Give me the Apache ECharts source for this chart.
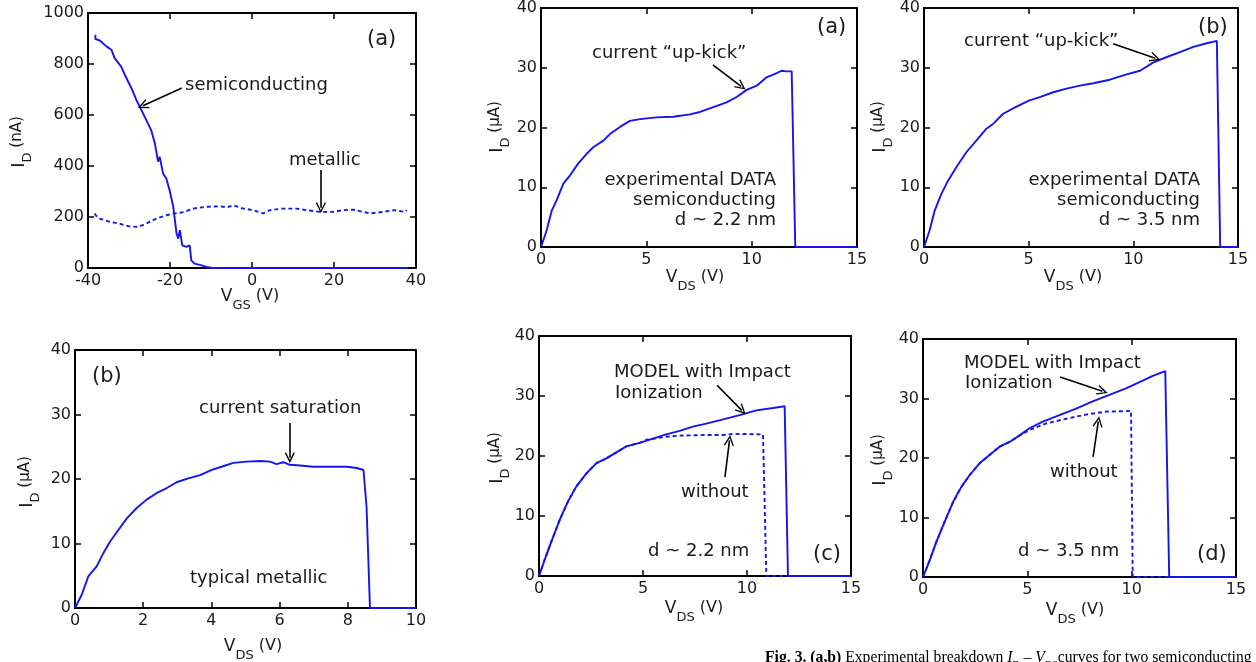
<!DOCTYPE html>
<html>
<head>
<meta charset="utf-8">
<script src="https://cdn.jsdelivr.net/npm/echarts@6/dist/echarts.min.js"></script>
<style>
html,body{margin:0;padding:0;background:#fff;}
#main{width:1256px;height:662px;}
</style>
</head>
<body>
<div id="main"></div>
<script>
// ---------- DATA ----------
// Panel 1 (left top): I_D (nA) vs V_GS (V)
const p1SemiVgs = [-38.2,-38.2,-37.2,-35.5,-34.3,-33.5,-31.9,-31.0,-29.4,-28.2,-27.0,-25.8,-24.6,-23.7,-22.9,-22.5,-21.7,-20.9,-20.1,-19.2,-18.4,-18.0,-17.6,-17.0,-16.0,-15.2,-14.8,-14.0,-12.3,-11.1,-9.5,0,10,20,30,38];
const p1SemiId  = [915,898,893,869,856,823,790,757,705,659,620,581,541,489,417,436,371,351,305,240,135,115,148,89,83,89,30,17,10,4,0,0,0,0,0,0];
const p1MetVgs = [-38.4,-38.0,-37.2,-34.7,-32.3,-30.2,-27.8,-25.8,-23.3,-20.9,-18.8,-16.4,-14.4,-11.1,-7.8,-6.0,-4.6,-2.1,0.3,2.7,4.4,7.6,10.9,13.3,16.6,19.8,22.3,24.7,27.1,28.8,32.0,34.5,37.3,37.7];
const p1MetId  = [214,205,194,181,174,164,161,174,194,207,214,220,233,240,242,238,246,233,227,214,227,233,233,227,220,220,227,229,220,214,220,227,220,227];

// Panel 2 (left bottom): typical metallic, I_D (uA) vs V_DS (V)
const p2Vds = [0,0.2,0.39,0.64,0.83,1.03,1.27,1.52,1.81,2.1,2.39,2.69,2.98,3.32,3.67,4.01,4.3,4.64,5.03,5.43,5.72,5.91,6.11,6.3,6.6,6.99,7.38,7.97,8.26,8.46,8.55,8.65,10];
const p2Id  = [0,2.1,4.9,6.5,8.5,10.3,12.1,13.9,15.5,16.8,17.8,18.6,19.5,20.1,20.6,21.4,21.9,22.5,22.7,22.8,22.7,22.3,22.6,22.2,22.1,21.9,21.9,21.9,21.7,21.4,15.7,0,0];

// Panel (a): experimental, d ~ 2.2 nm
const paVds = [0,0.27,0.51,0.74,1.06,1.38,1.77,2.17,2.48,2.96,3.27,3.75,4.22,4.7,5.49,6.28,7.07,7.55,8.18,8.81,9.29,9.76,10.24,10.71,11.19,11.42,11.66,11.9,12.07,15];
const paId  = [0,2.8,6.1,7.8,10.6,12.0,14.0,15.6,16.7,17.8,18.9,20.1,21.1,21.4,21.7,21.8,22.2,22.6,23.4,24.2,25.1,26.3,27.0,28.4,29.1,29.5,29.4,29.4,0,0];

// Panel (b): experimental, d ~ 3.5 nm
const pbVds = [0,0.27,0.51,0.83,1.15,1.55,2.03,2.5,2.98,3.3,3.78,4.42,5.01,5.53,6.17,6.81,7.45,8.09,8.88,9.68,10.32,10.96,11.6,12.23,12.87,13.51,13.99,14.07,14.15,15];
const pbId  = [0,2.8,6.1,8.9,11.1,13.4,15.9,17.8,19.8,20.6,22.3,23.5,24.5,25.1,25.9,26.5,27.0,27.4,28.0,28.9,29.5,30.9,31.8,32.6,33.5,34.1,34.5,34.7,0,0];

// Panel (c): model, d ~ 2.2 nm
const pcVds = [0,0.27,0.59,0.99,1.39,1.79,2.28,2.76,3.24,3.72,4.2,4.84,5.48,6.12,6.76,7.4,8.04,8.85,9.65,10.45,11.25,11.81,11.97,15];
const pcId  = [0,2.7,5.7,9.3,12.4,14.9,17.1,18.8,19.6,20.6,21.6,22.2,22.9,23.6,24.2,24.9,25.4,26.1,26.8,27.6,28.0,28.3,0,0];
const pcNoVds = [0,0.27,0.59,0.99,1.39,1.79,2.28,2.76,3.24,3.72,4.2,4.84,5.16,6.12,6.76,8.04,8.85,9.33,10.77,10.93,15];
const pcNoId  = [0,2.7,5.7,9.3,12.4,14.9,17.1,18.8,19.6,20.6,21.6,22.2,22.7,23.2,23.4,23.5,23.5,23.7,23.6,0,0];

// Panel (d): model, d ~ 3.5 nm
const pdVds = [0,0.32,0.64,1.04,1.44,1.83,2.23,2.71,3.19,3.67,4.15,4.63,5.1,5.74,6.54,7.34,8.13,8.93,9.73,10.53,11.01,11.61,11.8,15];
const pdId  = [0,2.8,5.9,9.3,12.6,15.1,17.1,19.1,20.5,21.9,22.7,23.8,25.0,26.1,27.2,28.3,29.5,30.6,31.7,33.0,33.8,34.6,0,0];
const pdNoVds = [0,0.32,0.64,1.04,1.44,1.83,2.23,2.71,3.19,3.67,4.15,4.63,5.1,5.9,6.86,7.81,8.77,9.97,10.05,15];
const pdNoId  = [0,2.8,5.9,9.3,12.6,15.1,17.1,19.1,20.5,21.9,22.7,23.8,24.7,25.8,26.6,27.3,27.8,27.9,0,0];

// axis ranges [min, max, interval]
const xRanges = [[-40,40,20],[0,10,2],[0,15,5],[0,15,5],[0,15,5],[0,15,5]];
const yRanges = [[0,1000,200],[0,40,10],[0,40,10],[0,40,10],[0,40,10],[0,40,10]];

// annotation arrows in data coordinates [x1,y1,x2,y2] (tail -> head)
const arrows = [
  [[-17.1,706,-26.6,636],[16.8,384,16.8,236]],
  [[6.3,28.7,6.3,23.3]],
  [[8.16,30.5,9.5,26.9]],
  [[9.03,34.0,11.05,31.6]],
  [[8.56,31.8,9.75,27.6],[8.94,16.5,9.16,22.6]],
  [[6.57,33.6,8.6,31.2],[8.15,20.2,8.4,26.1]]
];

// ---------- LAYOUT ----------
const FONT = 'DejaVu Sans';
const BLUE = '#1414f0';
const grids = [
  {left:88, top:13, width:328, height:255},
  {left:75, top:350, width:341, height:258},
  {left:541, top:7, width:316, height:240},
  {left:924, top:7, width:314, height:240},
  {left:539, top:336, width:312, height:240},
  {left:923, top:339, width:313, height:238}
];

function zip(a,b){ return a.map((v,i)=>[v,b[i]]); }

const xAxes = [], yAxes = [];
grids.forEach((g,i)=>{
  const base = {
    type:'value', gridIndex:i, splitLine:{show:false},
    axisLine:{show:true, onZero:false, lineStyle:{color:'#000', width:2}},
    axisTick:{show:true, inside:true, length:6, lineStyle:{color:'#000', width:1.5}}
  };
  const xr = xRanges[i], yr = yRanges[i];
  const lbl = {show:true, color:'#1a1a1a', fontSize:16, fontFamily:FONT, showMinLabel:true, showMaxLabel:true,
               formatter:(v)=>String(v)};
  xAxes.push(Object.assign({}, base, {position:'bottom', min:xr[0], max:xr[1], interval:xr[2],
    axisLabel:Object.assign({margin:5}, lbl)}));
  xAxes.push(Object.assign({}, base, {position:'top', min:xr[0], max:xr[1], interval:xr[2], axisLabel:{show:false}}));
  yAxes.push(Object.assign({}, base, {position:'left', min:yr[0], max:yr[1], interval:yr[2],
    axisLabel:Object.assign({margin:4}, lbl)}));
  yAxes.push(Object.assign({}, base, {position:'right', min:yr[0], max:yr[1], interval:yr[2], axisLabel:{show:false}}));
});

const ARROW = 'path://M0,0 L6,12 L4.6,12.8 L0,3.6 L-4.6,12.8 L-6,12 Z';
function mkArrows(i){
  return {
    silent:true, animation:false,
    symbol:['none', ARROW], symbolSize:[10,11],
    lineStyle:{color:'#000', width:1.6, type:'solid'},
    label:{show:false},
    data: arrows[i].map(a=>[{coord:[a[0],a[1]]},{coord:[a[2],a[3]]}])
  };
}
function line(i, data, dashed, withArrows){
  const s = {
    type:'line', xAxisIndex:2*i, yAxisIndex:2*i, data:data,
    showSymbol:false, symbol:'none', animation:false, z: dashed?2:3,
    lineStyle:{color:BLUE, width:1.9, type: dashed ? [4,3] : 'solid'}
  };
  if (withArrows) s.markLine = mkArrows(i);
  return s;
}

const series = [
  line(0, zip(p1MetVgs,p1MetId), true, false),
  line(0, zip(p1SemiVgs,p1SemiId), false, true),
  line(1, zip(p2Vds,p2Id), false, true),
  line(2, zip(paVds,paId), false, true),
  line(3, zip(pbVds,pbId), false, true),
  line(4, zip(pcNoVds,pcNoId), true, false),
  line(4, zip(pcVds,pcId), false, true),
  line(5, zip(pdNoVds,pdNoId), true, false),
  line(5, zip(pdVds,pdId), false, true)
];

// ---------- TEXT ----------
function txt(x,y,text,size,align){
  return {type:'text', x:x, y:y, z:100, silent:true,
    style:{text:text, fontSize:size||18, fontFamily:FONT, fill:'#1a1a1a', align:align||'left', verticalAlign:'middle'}};
}
function xlab(cx,cy,main,sub){
  return {type:'text', x:cx, y:cy, z:100, silent:true,
    style:{text:'{m|'+main+'}{s|'+sub+'}{u| (V)}', align:'center', verticalAlign:'middle', fill:'#1a1a1a',
      rich:{
        m:{fontSize:17, fontFamily:FONT, fill:'#1a1a1a', lineHeight:24, verticalAlign:'top'},
        s:{fontSize:13, fontFamily:FONT, fill:'#1a1a1a', lineHeight:24, verticalAlign:'bottom'},
        u:{fontSize:16, fontFamily:FONT, fill:'#1a1a1a', lineHeight:24, verticalAlign:'top'}
      }}};
}
function ylab(cx,cy,unit){
  return {type:'text', x:cx, y:cy, z:100, silent:true, rotation:Math.PI/2,
    style:{text:'{m|I}{s|D}{u| ('+unit+')}', align:'center', verticalAlign:'middle', fill:'#1a1a1a',
      rich:{
        m:{fontSize:18, fontFamily:FONT, fill:'#1a1a1a', lineHeight:24, verticalAlign:'top'},
        s:{fontSize:13, fontFamily:FONT, fill:'#1a1a1a', lineHeight:24, verticalAlign:'bottom'},
        u:{fontSize:15, fontFamily:FONT, fill:'#1a1a1a', lineHeight:24, verticalAlign:'top'}
      }}};
}

const graphic = [
  // panel 1
  txt(367,40,'(a)',21), txt(185,85,'semiconducting',18), txt(289,160,'metallic',18),
  xlab(250,300,'V','GS'), ylab(22,142,'nA'),
  // panel 2
  txt(92,377,'(b)',21), txt(199,408,'current saturation',18), txt(190,578,'typical metallic',18),
  xlab(253,650,'V','DS'), ylab(30,482,'μA'),
  // panel (a)
  txt(817,28,'(a)',21), txt(592,53,'current “up-kick”',18),
  txt(776,180,'experimental DATA',18,'right'), txt(776,200,'semiconducting',18,'right'), txt(776,220,'d ~ 2.2 nm',18,'right'),
  xlab(695,281,'V','DS'), ylab(500,127,'μA'),
  // panel (b)
  txt(1198,28,'(b)',21), txt(964,41,'current “up-kick”',18),
  txt(1200,180,'experimental DATA',18,'right'), txt(1200,200,'semiconducting',18,'right'), txt(1200,220,'d ~ 3.5 nm',18,'right'),
  xlab(1073,281,'V','DS'), ylab(883,127,'μA'),
  // panel (c)
  txt(614,372,'MODEL with Impact',18), txt(615,393,'Ionization',18), txt(681,492,'without',18),
  txt(648,551,'d ~ 2.2 nm',18), txt(813,555,'(c)',21),
  xlab(694,612,'V','DS'), ylab(500,458,'μA'),
  // panel (d)
  txt(964,363,'MODEL with Impact',18), txt(965,383,'Ionization',18), txt(1050,472,'without',18),
  txt(1018,551,'d ~ 3.5 nm',18), txt(1197,555,'(d)',21),
  xlab(1075,614,'V','DS'), ylab(883,460,'μA'),
  // caption
  {type:'text', x:765, y:660, z:100, silent:true,
   style:{text:'{b|Fig. 3. (a,b)}{r| Experimental breakdown }{i|I}{s|D}{r| – }{i|V}{s|DS}{r|curves for two semiconducting}',
     align:'left', verticalAlign:'middle', fill:'#000',
     rich:{
       b:{fontSize:15.7, fontWeight:'bold', fontFamily:'Liberation Serif', fill:'#000', lineHeight:20, verticalAlign:'top'},
       r:{fontSize:15.7, fontFamily:'Liberation Serif', fill:'#000', lineHeight:20, verticalAlign:'top'},
       i:{fontSize:15.7, fontStyle:'italic', fontFamily:'Liberation Serif', fill:'#000', lineHeight:20, verticalAlign:'top'},
       s:{fontSize:10, fontFamily:'Liberation Serif', fill:'#000', lineHeight:20, verticalAlign:'bottom'}
     }}}
];

const chart = echarts.init(document.getElementById('main'), null, {renderer:'canvas'});
chart.setOption({
  backgroundColor:'#ffffff',
  animation:false,
  grid: grids.map(g=>Object.assign({containLabel:false, show:false}, g)),
  xAxis: xAxes,
  yAxis: yAxes,
  series: series,
  graphic: graphic
});
</script>
</body>
</html>
